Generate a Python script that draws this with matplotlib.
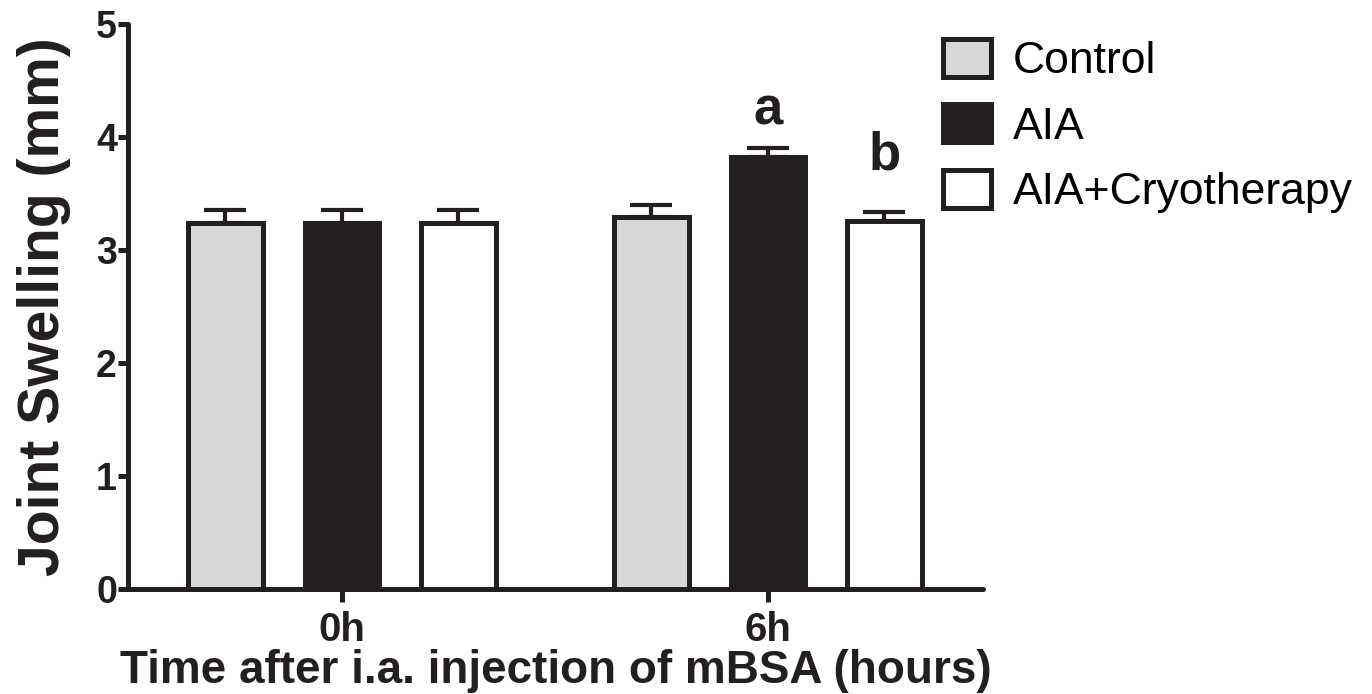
import matplotlib
matplotlib.use("Agg")
import matplotlib.pyplot as plt
import numpy as np
from matplotlib.patches import Patch

plt.rcParams["font.family"] = ["Liberation Sans", "DejaVu Sans"]

# data (mean and upper SEM)
time_points = ["0h", "6h"]
groups = ["Control", "AIA", "AIA+Cryotherapy"]
control_mean = [3.24, 3.29]
control_sem = [0.11, 0.11]
aia_mean = [3.24, 3.82]
aia_sem = [0.11, 0.08]
cryo_mean = [3.24, 3.26]
cryo_sem = [0.11, 0.08]
aia_letters = ["", "a"]
cryo_letters = ["", "b"]

dark = "#231f20"
face_colors = ["#d6d7d9", dark, "white"]
lw = 3.6

fig = plt.figure(figsize=(13.72, 6.94), dpi=100)
ax = fig.add_axes([0.0933, 0.1513, 0.6232, 0.8141])

x = np.arange(len(time_points))
offsets = [-0.2735, 0.0, 0.2735]
means = [control_mean, aia_mean, cryo_mean]
sems = [control_sem, aia_sem, cryo_sem]

for i in range(3):
    xs = x + offsets[i]
    ax.errorbar(xs, means[i], yerr=[np.zeros(len(xs)), sems[i]], fmt="none",
                ecolor=dark, elinewidth=3, capsize=15, capthick=3, zorder=1)
    ax.bar(xs, means[i], width=0.175, color=face_colors[i], edgecolor=dark,
           linewidth=lw, zorder=2)

# significance letters
for j, lab in enumerate(aia_letters):
    if lab:
        ax.annotate(lab, (x[j] + offsets[1], aia_mean[j] + aia_sem[j]),
                    xytext=(0, 17), textcoords="offset points", ha="center",
                    va="baseline", fontsize=38, fontweight="bold", color=dark)
for j, lab in enumerate(cryo_letters):
    if lab:
        ax.annotate(lab, (x[j] + offsets[2], cryo_mean[j] + cryo_sem[j]),
                    xytext=(0, 30), textcoords="offset points", ha="center",
                    va="baseline", fontsize=38, fontweight="bold", color=dark)

ax.set_xlim(-0.502, 1.505)
ax.set_ylim(0, 5)
ax.set_yticks([0, 1, 2, 3, 4, 5])
ax.set_xticks(x)
ax.set_xticklabels(time_points)

for s in ["top", "right"]:
    ax.spines[s].set_visible(False)
for s in ["left", "bottom"]:
    ax.spines[s].set_linewidth(lw)
    ax.spines[s].set_color(dark)
    ax.spines[s].set_capstyle("round")

ax.tick_params(axis="both", direction="out", width=lw, color=dark)
ax.tick_params(axis="y", length=7, labelsize=27, pad=1)
ax.tick_params(axis="x", length=9, labelsize=29, pad=7)
for t in ax.get_xticklabels() + ax.get_yticklabels():
    t.set_fontweight("bold")
    t.set_color(dark)

ax.set_ylabel("Joint Swelling (mm)", fontsize=41, fontweight="bold", color=dark, labelpad=18)
ax.set_xlabel("Time after i.a. injection of mBSA (hours)", fontsize=33,
              fontweight="bold", color=dark, labelpad=0)

handles = [Patch(facecolor=c, edgecolor=dark, linewidth=lw) for c in face_colors]
fig.legend(handles, groups, loc="upper left", bbox_to_anchor=(943 / 1372, 1 - 39 / 694),
           frameon=False, fontsize=32, handlelength=1.07, handleheight=0.93,
           handletextpad=0.5, labelspacing=0.5, borderpad=0, borderaxespad=0)

fig.savefig("out.png", dpi=100)
